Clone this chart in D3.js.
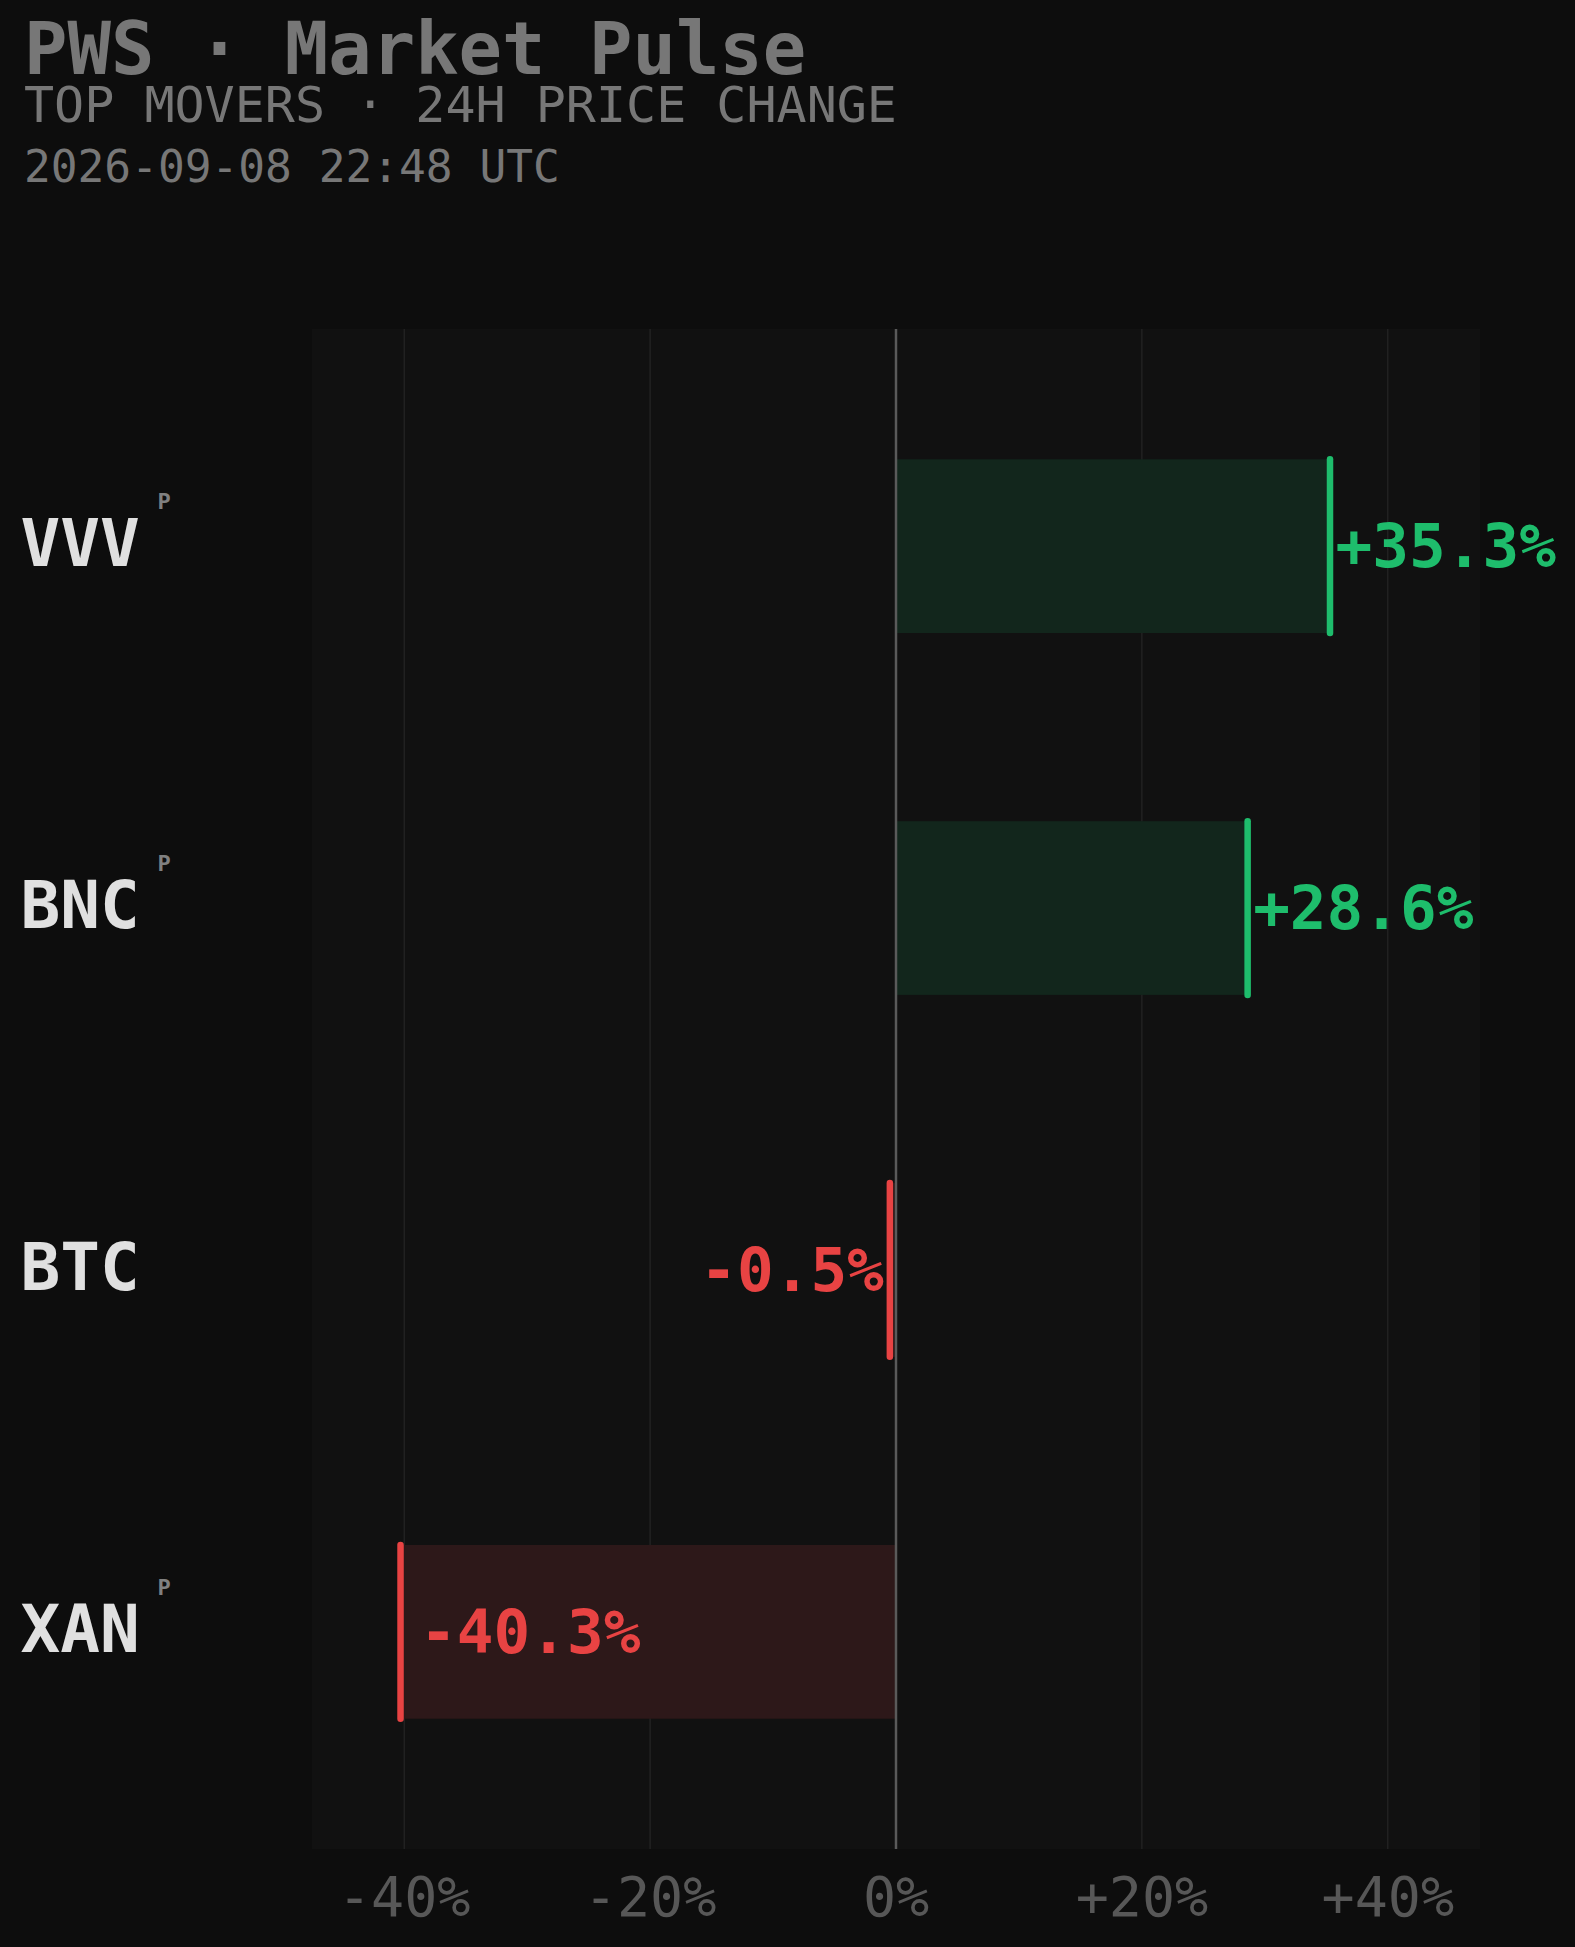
<!DOCTYPE html>
<html>
<head>
<meta charset="utf-8">
<script src="https://cdn.jsdelivr.net/npm/d3@7"></script>
<style>
  html, body { margin: 0; padding: 0; background: #0d0d0d; }
  svg { display: block; }
  text { font-family: "DejaVu Sans Mono", monospace; }
</style>
</head>
<body>
<script>
// ---- data ----
const tickers = ["VVV", "BNC", "BTC", "XAN"];
const changes = [35.3, 28.6, -0.5, -40.3];
const flagged = [true, true, false, true];
const tickValues = [-40, -20, 0, 20, 40];
const domainMax = 47.5;
const titleText = "PWS · Market Pulse";
const subtitleText = "TOP MOVERS · 24H PRICE CHANGE";
const dateText = "2026-09-08 22:48 UTC";

// ---- layout ----
const W = 1575, H = 1947;
const plot = { left: 312, right: 1480, top: 329, bottom: 1849 };
const GREEN = "#1ebd6c", RED = "#e84343";
const GREEN_FILL = "#12261c", RED_FILL = "#2d1819";

const svg = d3.select("body").append("svg").attr("width", W).attr("height", H);
svg.append("rect").attr("width", W).attr("height", H).attr("fill", "#0d0d0d");

// header
svg.append("text").attr("x", 24).attr("y", 74).attr("font-size", 72.2).attr("font-weight", "bold")
  .attr("fill", "#777").text(titleText);
svg.append("text").attr("x", 24).attr("y", 122).attr("font-size", 50).attr("fill", "#777").text(subtitleText);
svg.append("text").attr("x", 24).attr("y", 182).attr("font-size", 44.5).attr("fill", "#777").text(dateText);

const x = d3.scaleLinear().domain([-domainMax, domainMax]).range([plot.left, plot.right]);
const y = d3.scaleBand().domain(tickers).range([plot.top, plot.bottom])
  .paddingInner(0.52).paddingOuter(0.36);

// plot background
svg.append("rect").attr("x", plot.left).attr("y", plot.top)
  .attr("width", plot.right - plot.left).attr("height", plot.bottom - plot.top)
  .attr("fill", "#111111");

// gridlines
svg.append("g").selectAll("line").data(tickValues.filter(d => d !== 0)).join("line")
  .attr("x1", d => x(d)).attr("x2", d => x(d))
  .attr("y1", plot.top).attr("y2", plot.bottom)
  .attr("stroke", "#262626").attr("stroke-width", 1.2);

// tick labels
svg.append("g").selectAll("text").data(tickValues).join("text")
  .attr("x", d => x(d)).attr("y", plot.bottom + 67)
  .attr("text-anchor", "middle").attr("font-size", 55).attr("fill", "#575757")
  .text(d => (d > 0 ? "+" : "") + d + "%");

const rows = tickers.map((t, i) => ({ t, v: changes[i], p: flagged[i] }));

// bars
svg.append("g").selectAll("rect").data(rows).join("rect")
  .attr("x", d => Math.min(x(d.v), x(0)))
  .attr("width", d => Math.abs(x(d.v) - x(0)))
  .attr("y", d => y(d.t)).attr("height", y.bandwidth())
  .attr("fill", d => d.v >= 0 ? GREEN_FILL : RED_FILL);

// zero line
svg.append("line").attr("x1", x(0)).attr("x2", x(0))
  .attr("y1", plot.top).attr("y2", plot.bottom)
  .attr("stroke", "#5a5a5a").attr("stroke-width", 2.5);

// end markers
svg.append("g").selectAll("line").data(rows).join("line")
  .attr("x1", d => x(d.v)).attr("x2", d => x(d.v))
  .attr("y1", d => y(d.t)).attr("y2", d => y(d.t) + y.bandwidth())
  .attr("stroke", d => d.v >= 0 ? GREEN : RED)
  .attr("stroke-width", 6.5).attr("stroke-linecap", "round");

// value labels
const fmt = v => (v > 0 ? "+" : "") + v.toFixed(1) + "%";
const labelW = 6 * 0.602 * 61;
svg.append("g").selectAll("text").data(rows).join("text")
  .attr("font-size", 61).attr("font-weight", "bold")
  .attr("fill", d => d.v >= 0 ? GREEN : RED)
  .attr("y", d => y(d.t) + y.bandwidth() / 2 + 21)
  .each(function (d) {
    const px = x(d.v);
    const sel = d3.select(this);
    if (d.v >= 0) {
      sel.attr("x", px + 5.5).attr("text-anchor", "start");
    } else if (px - labelW - 10 < plot.left) {
      sel.attr("x", px + 19.5).attr("text-anchor", "start");
    } else {
      sel.attr("x", px - 6).attr("text-anchor", "end");
    }
  })
  .text(d => fmt(d.v));

// tickers
const tg = svg.append("g").selectAll("g").data(rows).join("g");
tg.append("text").attr("x", 20.5).attr("y", d => y(d.t) + y.bandwidth() / 2 + 20)
  .attr("font-size", 66).attr("font-weight", "bold").attr("fill", "#e0e0e0")
  .text(d => d.t);
tg.filter(d => d.p).append("text").attr("x", 157.5).attr("y", d => y(d.t) + y.bandwidth() / 2 - 37)
  .attr("font-size", 22).attr("font-weight", "bold").attr("fill", "#808080")
  .text("P");
</script>
</body>
</html>
